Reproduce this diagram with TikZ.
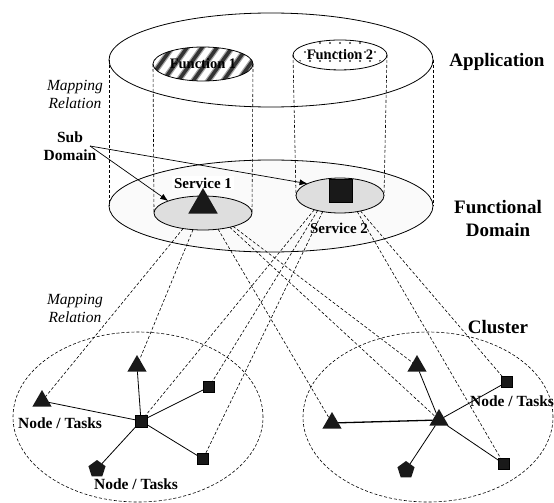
\documentclass[tikz,border=0pt]{standalone}
\usepackage{fontspec}
\setmainfont{Liberation Serif}
\usetikzlibrary{shapes.geometric,arrows.meta}
\begin{document}
\begin{tikzpicture}[x=1pt,y=-1pt,
  biglbl/.style={font=\bfseries\fontsize{19}{23}\selectfont, align=center, inner sep=0pt},
  smlbl/.style={font=\bfseries\fontsize{15.5}{18}\selectfont, align=center, inner sep=0pt},
  maplbl/.style={font=\itshape\fontsize{15.5}{18}\selectfont, align=center, inner sep=0pt},
  ell/.style={ellipse, draw, line width=0.8pt, inner sep=0pt, outer sep=0pt},
  dsh/.style={dash pattern=on 3pt off 2pt, line width=0.6pt},
  tri/.style={regular polygon, regular polygon sides=3, fill=black!90, minimum size=22pt, inner sep=0pt, outer sep=0pt},
  sqr/.style={rectangle, fill=black!90, draw=black, line width=0.4pt, minimum size=11pt, inner sep=0pt, outer sep=0pt},
  pent/.style={regular polygon, regular polygon sides=5, fill=black!90, minimum size=18pt, inner sep=0pt, outer sep=0pt},
  link/.style={line width=0.8pt},
  arr/.style={-{Latex[length=8pt,width=6pt]}, line width=0.7pt},
]
\useasboundingbox (0,0) rectangle (554,503);

% Application cylinder top
\node[ell, minimum width=324pt, minimum height=94pt] (app) at (271,60) {};
% Functional domain
\node[ell, fill=black!2, minimum width=324pt, minimum height=92pt] (fd) at (271,206) {};

% Function 1 stripes
\begin{scope}
  \clip (203,64) ellipse [x radius=50, y radius=17];
  \foreach \x in {116,131,...,270} {
    \draw[line width=6pt, black!35] (\x,84) -- ++(30,-42);
    \draw[line width=3.5pt, black!80] (\x,84) -- ++(30,-42);
  }
\end{scope}
\node[ell, minimum width=100pt, minimum height=34pt, font=\bfseries\fontsize{14.5}{17}\selectfont] (f1) at (203,64) {Function 1};

% Function 2 dots
\begin{scope}
  \clip (340,55) ellipse [x radius=44, y radius=15];
  \foreach \y/\o in {43/0,52/5,61/0,70/5}
    \foreach \x in {290,300,...,390} \fill[black!75] (\x+\o,\y) circle [radius=1.2pt];
\end{scope}
\node[ell, minimum width=88pt, minimum height=30pt, font=\bfseries\fontsize{14.5}{17}\selectfont] (f2) at (340,55) {Function 2};

% Services
\node[ell, fill=black!13, minimum width=98pt, minimum height=34pt] (s1) at (203,213) {};
\node[ell, fill=black!13, minimum width=88pt, minimum height=35pt] (s2) at (340,195.5) {};

% vertical mapping lines
\draw[dsh] (app.west) -- (fd.west);
\draw[dsh] (app.east) -- (fd.east);
\draw[dsh] (f1.west) -- (s1.west);
\draw[dsh] (f1.east) -- (s1.east);
\draw[dsh] (f2.west) -- (s2.west);
\draw[dsh] (f2.east) -- (s2.east);

% service labels and symbols
\node[font=\bfseries\fontsize{15}{18}\selectfont, fill=white, inner sep=2pt] (ls1) at (203,183) {Service 1};
\node[tri, minimum size=34pt] (t0) at (203,205) {};
\node[sqr, minimum size=23pt] (q0) at (340.5,190.5) {};
\node[font=\bfseries\fontsize{15}{18}\selectfont, inner sep=0pt] (ls2) at (339,228) {Service 2};

% side labels
\node[biglbl] (lapp) at (497,62) {Application};
\node[biglbl] (lfd) at (498,218) {Functional\\Domain};
\node[biglbl] (lcl) at (498,327) {Cluster};
\node[smlbl] (lsd) at (70,146) {Sub\\Domain};
\node[maplbl] (m1) at (75,94) {Mapping\\Relation};
\node[maplbl] (m2) at (75,308) {Mapping\\Relation};

% Sub domain arrows
\coordinate (sdp) at (90,146);
\draw[arr] (sdp) -- (s1.161);
\draw[arr] (sdp) -- (s2.160);

% Clusters
\node[ell, dsh, minimum width=250pt, minimum height=170pt] (cl1) at (138,417) {};
\node[ell, dsh, minimum width=250pt, minimum height=170pt] (cl2) at (428,417) {};

% left cluster nodes
\node[sqr, minimum size=12pt] (lc) at (141,421) {};
\node[tri] (lt1) at (137,366) {};
\node[tri] (lt2) at (42,401) {};
\node[sqr] (lq1) at (209,387) {};
\node[sqr] (lq2) at (203,459) {};
\node[pent] (lp) at (97,469) {};
\draw[link] (lc) -- (lt1);
\draw[link] (lc) -- (lt2);
\draw[link] (lc) -- (lq1);
\draw[link] (lc) -- (lq2);
\draw[link] (lc) -- (lp);

% right cluster nodes
\node[tri] (rc) at (439,420) {};
\node[tri] (rt1) at (417,366) {};
\node[tri] (rt2) at (332,423) {};
\node[sqr] (rq1) at (507,382) {};
\node[sqr] (rq2) at (504,464) {};
\node[pent] (rp) at (406,470) {};
\draw[link] (rc) -- (rt1);
\draw[link, line width=1.3pt] (rc) -- (rt2);
\draw[link] (rc) -- (rq1);
\draw[link] (rc) -- (rq2);
\draw[link] (rc) -- (rp);

% mapping lines service -> nodes
\draw[dsh] (s1.218) -- (lt2);
\draw[dsh] (s1.239) -- (lt1);
\draw[dsh] (s1.313) -- (rt2);
\draw[dsh] (s1.332) -- (rc);
\draw[dsh] (s1.336) -- (rt1);
\draw[dsh] (s2.209) -- (lc);
\draw[dsh] (s2.214) -- (lq1);
\draw[dsh] (s2.223) -- (lq2);
\draw[dsh] (s2.317) -- (rq2);
\draw[dsh] (s2.323) -- (rq1);

% node labels
\node[smlbl] (ln1) at (60,423) {Node / Tasks};
\node[smlbl] (ln2) at (136,484) {Node / Tasks};
\node[smlbl] (ln3) at (512,401) {Node / Tasks};
\end{tikzpicture}
\end{document}
